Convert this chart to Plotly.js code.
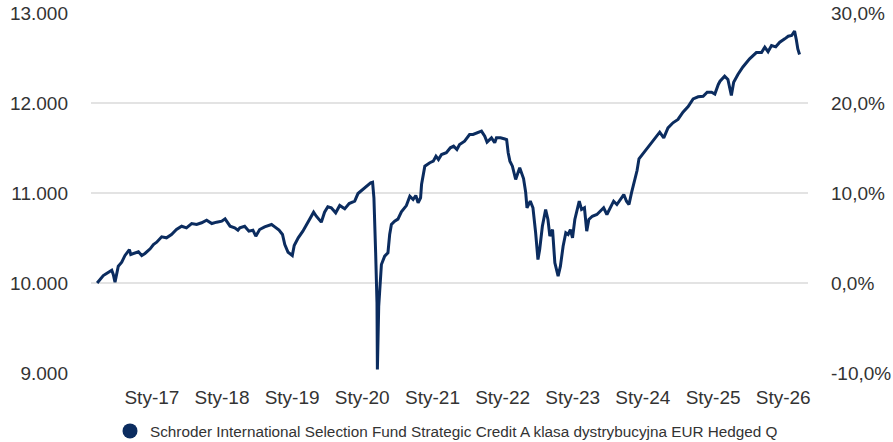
<!DOCTYPE html>
<html>
<head>
<meta charset="utf-8">
<script src="https://cdn.plot.ly/plotly-3.0.1.min.js"></script>
<style>html,body{margin:0;padding:0;background:#fff;}#chart{width:893px;height:442px;}</style>
</head>
<body>
<div id="chart"></div>
<script>
const seriesName = "Schroder International Selection Fund Strategic Credit A klasa dystrybucyjna EUR Hedged Q";

const dates = [
"2016-03-22","2016-04-23","2016-05-10","2016-05-24","2016-06-06","2016-06-14","2016-06-23","2016-07-10","2016-07-28","2016-08-14",
"2016-09-06","2016-09-13","2016-10-05","2016-10-23","2016-11-09","2016-11-26","2016-12-23","2017-01-09","2017-01-26","2017-02-21",
"2017-03-18","2017-04-13","2017-05-09","2017-06-05","2017-06-30","2017-07-27","2017-08-22","2017-09-17","2017-10-13","2017-11-09",
"2017-12-04","2017-12-31","2018-01-17","2018-02-12","2018-03-08","2018-03-25","2018-04-04","2018-04-29","2018-05-21","2018-06-11",
"2018-06-26","2018-07-16","2018-08-11","2018-09-16","2018-10-03","2018-10-25","2018-11-12","2018-11-24","2018-12-11","2019-01-02",
"2019-01-12","2019-02-02","2019-02-26","2019-03-24","2019-04-23","2019-05-07","2019-06-02","2019-06-19","2019-07-06","2019-07-24",
"2019-08-16","2019-09-06","2019-10-02","2019-10-25","2019-11-23","2019-12-10","2020-01-03","2020-01-24","2020-02-14","2020-02-24",
"2020-03-02","2020-03-11","2020-03-18","2020-03-20","2020-03-27","2020-04-10","2020-04-27","2020-05-14","2020-05-23","2020-06-01",
"2020-06-18","2020-07-05","2020-07-23","2020-08-18","2020-09-05","2020-09-22","2020-10-06","2020-10-18","2020-10-31","2020-11-05",
"2020-11-22","2020-12-18","2021-01-05","2021-01-19","2021-02-01","2021-02-17","2021-03-14","2021-04-04","2021-04-21","2021-05-08",
"2021-05-22","2021-06-17","2021-06-29","2021-07-13","2021-07-31","2021-08-26","2021-09-13","2021-09-30","2021-10-12","2021-11-04",
"2021-11-21","2021-11-30","2021-12-21","2022-01-13","2022-01-22","2022-01-30","2022-02-08","2022-02-21","2022-03-10","2022-03-31",
"2022-04-20","2022-05-01","2022-05-08","2022-05-25","2022-06-08","2022-06-22","2022-07-04","2022-07-13","2022-07-27","2022-08-13",
"2022-08-25","2022-09-04","2022-09-18","2022-09-30","2022-10-17","2022-10-29","2022-11-12","2022-11-26","2022-12-08","2022-12-20",
"2022-12-31","2023-01-12","2023-01-24","2023-02-04","2023-02-16","2023-03-03","2023-03-15","2023-03-26","2023-04-13","2023-05-07",
"2023-05-24","2023-06-11","2023-06-28","2023-07-16","2023-08-02","2023-08-19","2023-09-07","2023-09-24","2023-10-08","2023-10-21",
"2023-11-03","2023-11-16","2023-12-02","2023-12-12","2023-12-30","2024-01-17","2024-02-03","2024-02-16","2024-03-08","2024-03-29",
"2024-04-19","2024-05-11","2024-06-06","2024-07-02","2024-07-28","2024-08-24","2024-09-19","2024-10-15","2024-11-10","2024-12-01",
"2024-12-24","2025-01-10","2025-01-28","2025-02-06","2025-03-02","2025-03-19","2025-04-06","2025-04-18","2025-05-10","2025-06-05",
"2025-07-10","2025-08-14","2025-09-10","2025-09-27","2025-10-14","2025-11-01","2025-11-23","2025-12-14","2026-01-09","2026-01-27",
"2026-02-14","2026-03-01","2026-03-10","2026-03-18","2026-03-27"
];

const values = [
10000,10083,10106,10120,10142,10094,10009,10187,10231,10306,
10372,10317,10336,10347,10306,10328,10380,10428,10453,10513,
10502,10539,10594,10631,10613,10661,10650,10669,10698,10661,
10676,10687,10713,10631,10613,10587,10613,10631,10576,10587,
10520,10594,10624,10650,10624,10587,10539,10428,10342,10306,
10417,10502,10576,10669,10787,10742,10676,10787,10847,10836,
10780,10861,10824,10883,10909,10994,11039,11083,11113,11120,
10947,10336,9780,9039,9741,10206,10298,10336,10539,10650,
10687,10710,10790,10860,10965,10928,10972,10891,10947,11094,
11298,11336,11354,11409,11372,11428,11447,11502,11520,11483,
11539,11576,11613,11650,11650,11669,11687,11631,11565,11613,
11558,11613,11613,11600,11594,11447,11354,11298,11150,11280,
11160,11010,10836,10909,10836,10558,10261,10372,10631,10817,
10706,10520,10594,10224,10076,10187,10409,10558,10539,10594,
10502,10706,10798,10909,10817,10836,10576,10706,10742,10761,
10798,10836,10761,10847,10909,10872,10928,10983,10909,10872,
11002,11113,11250,11380,11428,11480,11520,11558,11613,11676,
11613,11724,11780,11817,11898,11960,12046,12069,12075,12120,
12120,12100,12206,12242,12298,12261,12083,12230,12317,12400,
12491,12560,12560,12620,12570,12639,12624,12676,12713,12742,
12750,12798,12706,12600,12539
];

const xTickVals = ["2017-01-01","2018-01-01","2019-01-01","2020-01-01","2021-01-01","2022-01-01","2023-01-01","2024-01-01","2025-01-01","2026-01-01"];
const xTickText = ["Sty-17","Sty-18","Sty-19","Sty-20","Sty-21","Sty-22","Sty-23","Sty-24","Sty-25","Sty-26"];
const leftTicks = [9000,10000,11000,12000,13000];
const leftTickText = ["9.000","10.000","11.000","12.000","13.000"];
const rightTicks = [-10,0,10,20,30];
const rightTickText = ["-10,0%","0,0%","10,0%","20,0%","30,0%"];

const navy = "#0b2c5f";
const fontFam = "'Liberation Sans', Arial, sans-serif";

const traces = [
  {x: dates, y: values, type: "scatter", mode: "lines", line: {color: navy, width: 3}, showlegend: false, hoverinfo: "skip"},
  {x: [null], y: [null], type: "scatter", mode: "markers", name: seriesName, marker: {color: navy, size: 15, symbol: "circle"}, showlegend: true},
  {x: [dates[0]], y: [0], type: "scatter", mode: "markers", yaxis: "y2", marker: {opacity: 0}, showlegend: false, hoverinfo: "skip"}
];

const layout = {
  width: 893, height: 442,
  margin: {l: 91, r: 85, t: 13, b: 69, autoexpand: false},
  paper_bgcolor: "#fff", plot_bgcolor: "#fff",
  font: {family: fontFam, color: "#333", size: 19},
  showlegend: true,
  hovermode: false,
  xaxis: {
    type: "date",
    range: ["2016-02-19", "2026-05-10"],
    tickvals: xTickVals, ticktext: xTickText,
    showgrid: false, zeroline: false,
    showline: false, ticks: "",
    ticklabelstandoff: 11,
    tickfont: {size: 19, color: "#333"}
  },
  yaxis: {
    range: [9000, 13000],
    tickvals: leftTicks, ticktext: leftTickText,
    showgrid: true, gridcolor: "#e3e3e3", gridwidth: 1.2,
    zeroline: false, ticks: "", ticklabelstandoff: 22,
    tickfont: {size: 19, color: "#333"}
  },
  yaxis2: {
    range: [-10, 30], overlaying: "y", side: "right",
    tickvals: rightTicks, ticktext: rightTickText,
    showgrid: false, zeroline: false, ticks: "", ticklabelstandoff: 22,
    tickfont: {size: 19, color: "#333"}
  },
  legend: {
    orientation: "h", xref: "container", yref: "container",
    x: 0.5, xanchor: "center", y: 0.025, yanchor: "middle",
    font: {size: 15.3, color: "#333"}, itemwidth: 30
  }
};

Plotly.newPlot("chart", traces, layout, {displayModeBar: false, staticPlot: true});
</script>
</body>
</html>
